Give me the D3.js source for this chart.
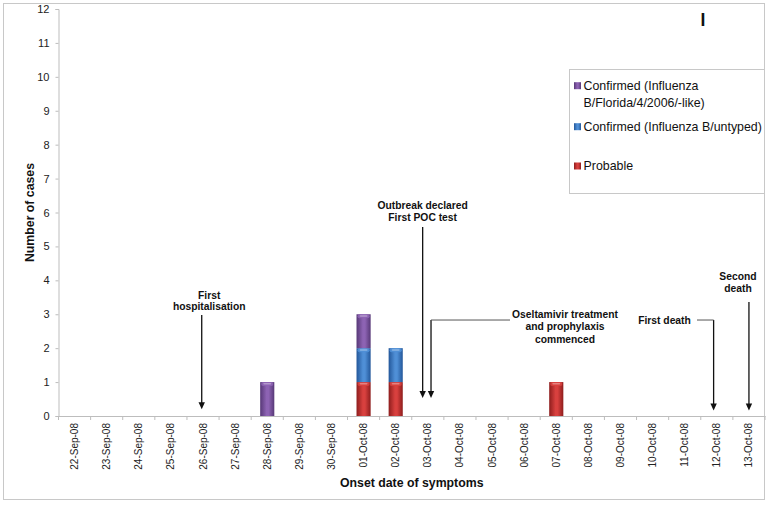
<!DOCTYPE html>
<html><head><meta charset="utf-8">
<script src="https://cdn.jsdelivr.net/npm/d3@7"></script>
<style>body{margin:0;background:#fff}svg{display:block;font-family:"Liberation Sans",Arial,sans-serif}</style>
</head><body><svg id="c" width="770" height="505"></svg>
<script>
const categories = ["22-Sep-08","23-Sep-08","24-Sep-08","25-Sep-08","26-Sep-08","27-Sep-08","28-Sep-08","29-Sep-08","30-Sep-08","01-Oct-08","02-Oct-08","03-Oct-08","04-Oct-08","05-Oct-08","06-Oct-08","07-Oct-08","08-Oct-08","09-Oct-08","10-Oct-08","11-Oct-08","12-Oct-08","13-Oct-08"];
const probable = [0,0,0,0,0,0,0,0,0,1,1,0,0,0,0,1,0,0,0,0,0,0];
const untyped  = [0,0,0,0,0,0,0,0,0,1,1,0,0,0,0,0,0,0,0,0,0,0];
const florida  = [0,0,0,0,0,0,1,0,0,1,0,0,0,0,0,0,0,0,0,0,0,0];
const seriesNames = ["Probable","Confirmed (Influenza B/untyped)","Confirmed (Influenza B/Florida/4/2006/-like)"];
const yTicks = [0,1,2,3,4,5,6,7,8,9,10,11,12];
// annotations: date, offset within band (fraction), arrow top/bottom and first text line centre in case units
const annotations = [
  {lines:["First","hospitalisation"], date:"26-Sep-08", off:-0.04, top:2.98, bottom:0.2, textDx:7.5, textY:3.567, gap:11.7},
  {lines:["Outbreak declared","First POC test"], date:"03-Oct-08", off:-0.16, top:5.57, bottom:0.53, textDx:0, textY:6.22, gap:12},
  {lines:["Oseltamivir treatment","and prophylaxis","commenced"], date:"03-Oct-08", off:0.1, top:2.83, bottom:0.53, elbowTo:510, textX:565, textY:3.0, gap:12.5},
  {lines:["First death"], date:"12-Oct-08", off:-0.1, top:2.83, bottom:0.16, elbowTo:697, textX:664.5, textY:2.81, gap:12},
  {lines:["Second","death"], date:"13-Oct-08", off:0, top:3.36, bottom:0.16, textDx:-11, textY:4.13, gap:12}
];

const svg = d3.select("#c");
const m = {l:58.5, r:765, t:9, b:416};
const x = d3.scaleBand().domain(categories).range([m.l, m.r]).paddingInner(0.56).paddingOuter(0.28);
const xb = d3.scaleBand().domain(categories).range([m.l, m.r]);
const y = d3.scaleLinear().domain([0,12]).range([m.b, m.t]);

// outer border
svg.append("rect").attr("x",3.5).attr("y",3.5).attr("width",761).attr("height",496).attr("fill","none").attr("stroke","#c8c8c8");

const defs = svg.append("defs");
const cols = [["#8e1d1d","#d8403e"],["#23579a","#4f8fd6"],["#573877","#8d63b3"]];
cols.forEach((c,i)=>{
  const g = defs.append("linearGradient").attr("id","g"+i).attr("x1","0").attr("x2","1").attr("y1","0").attr("y2","0");
  g.append("stop").attr("offset","0").attr("stop-color",c[0]);
  g.append("stop").attr("offset","0.45").attr("stop-color",c[1]);
  g.append("stop").attr("offset","0.6").attr("stop-color",c[1]);
  g.append("stop").attr("offset","1").attr("stop-color",c[0]);
});

// y axis
const ya = svg.append("g").attr("transform",`translate(${m.l},0)`).call(d3.axisLeft(y).tickValues(yTicks).tickSize(3).tickPadding(6));
ya.select(".domain").attr("stroke","#bdbdbd");
ya.selectAll(".tick line").attr("stroke","#bdbdbd");
ya.selectAll("text").attr("font-size",11).attr("fill","#222").attr("font-family","Liberation Sans, Arial");

// x axis
const xa = svg.append("g").attr("transform",`translate(0,${m.b})`).call(d3.axisBottom(x).tickSize(0).tickPadding(0));
xa.select(".domain").attr("stroke","#bdbdbd");
xa.selectAll("text").attr("font-size",10).attr("fill","#222").attr("font-family","Liberation Sans, Arial")
  .attr("transform","rotate(-90)").attr("text-anchor","end").attr("dx","-7").attr("dy","0.35em").attr("y",0).attr("x",0);
// boundary ticks
svg.append("g").selectAll("line").data(categories.concat([null])).join("line")
  .attr("x1",(d,i)=>m.l+i*xb.bandwidth()).attr("x2",(d,i)=>m.l+i*xb.bandwidth())
  .attr("y1",m.b).attr("y2",m.b+4).attr("stroke","#bdbdbd");

// stacked bars
const rows = categories.map((c,i)=>({cat:c, p:probable[i], u:untyped[i], f:florida[i]}));
const stack = d3.stack().keys(["p","u","f"])(rows);
stack.forEach((s,si)=>{
  const g = svg.append("g");
  s.forEach(d=>{
    if (d[1]-d[0] <= 0) return;
    const bx = x(d.data.cat), bw = x.bandwidth(), y0 = y(d[0]), y1 = y(d[1]);
    g.append("rect").attr("x",bx).attr("y",y1).attr("width",bw).attr("height",y0-y1).attr("fill",`url(#g${si})`);
    g.append("rect").attr("x",bx+1).attr("y",y1).attr("width",bw-2).attr("height",4).attr("rx",2)
      .attr("fill",cols[si][1]).attr("opacity",0.9);
    g.append("rect").attr("x",bx+3).attr("y",y1+1).attr("width",bw-6).attr("height",1.5).attr("rx",1)
      .attr("fill","#fff").attr("opacity",0.35);
  });
});

// axis titles
svg.append("text").attr("x",(m.l+m.r)/2).attr("y",487).attr("text-anchor","middle")
  .attr("font-weight","bold").attr("font-size",12.3).attr("fill","#111").text("Onset date of symptoms");
svg.append("text").attr("transform",`translate(34,${(m.t+m.b)/2}) rotate(-90)`).attr("text-anchor","middle")
  .attr("font-weight","bold").attr("font-size",12.3).attr("fill","#111").text("Number of cases");

// marker "I"
svg.append("text").attr("x",703).attr("y",26).attr("text-anchor","middle").attr("font-weight","bold")
  .attr("font-size",17.5).attr("fill","#111").text("I");

// legend
const lg = svg.append("g");
lg.append("rect").attr("x",569.5).attr("y",69.5).attr("width",195).attr("height",124).attr("fill","#fff").attr("stroke","#c8c8c8");
const legendItems = [
  {i:2, lines:["Confirmed (Influenza","B/Florida/4/2006/-like)"], y:85.7},
  {i:1, lines:["Confirmed (Influenza B/untyped)"], y:126.7},
  {i:0, lines:["Probable"], y:166}
];
legendItems.forEach(it=>{
  lg.append("rect").attr("x",574).attr("y",it.y-3.5).attr("width",7).attr("height",7).attr("fill",`url(#g${it.i})`);
  it.lines.forEach((l,k)=>lg.append("text").attr("x",583.5).attr("y",it.y+k*16.6).attr("dy","0.35em")
    .attr("font-size",12.4).attr("fill","#111").text(l));
});

// annotations
const ag = svg.append("g");
function arrow(px, yTop, yBot){
  ag.append("line").attr("x1",px).attr("x2",px).attr("y1",yTop).attr("y2",yBot-6).attr("stroke","#111").attr("stroke-width",1.3);
  ag.append("path").attr("d",`M${px-3.2},${yBot-7}L${px+3.2},${yBot-7}L${px},${yBot}Z`).attr("fill","#111");
}
annotations.forEach(a=>{
  const px = xb(a.date)+xb.bandwidth()*(0.5+a.off);
  const yt = y(a.top), yb = y(a.bottom);
  arrow(px, yt, yb);
  if (a.elbowTo !== undefined){
    ag.append("line").attr("x1",px).attr("x2",a.elbowTo).attr("y1",yt).attr("y2",yt).attr("stroke","#555").attr("stroke-width",1);
  }
  const tx = a.textX !== undefined ? a.textX : px + (a.textDx||0);
  const ty0 = y(a.textY);
  a.lines.forEach((l,k)=>ag.append("text").attr("x",tx).attr("y",ty0+k*a.gap).attr("dy","0.35em").attr("text-anchor","middle")
    .attr("font-weight","bold").attr("font-size",10.3).attr("fill","#111").text(l));
});
</script></body></html>
